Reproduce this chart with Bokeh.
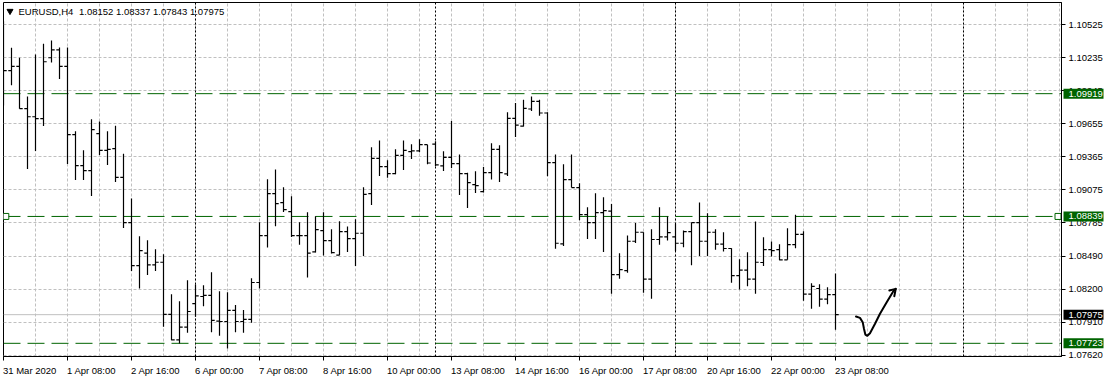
from bokeh.plotting import figure
from bokeh.models import (FixedTicker, Span, Label, ColumnDataSource,
                          Range1d, PrintfTickFormatter)
from bokeh.core.properties import value
from bokeh.embed import file_html
from bokeh.resources import INLINE

symbol = "EURUSD,H4"
ohlc_header = "1.08152 1.08337 1.07843 1.07975"

opens = [1.10300, 1.10121, 1.10159, 1.09787, 1.09716, 1.09699, 1.10235, 1.10305, 1.10159, 1.09558,
         1.09286, 1.09242, 1.09567, 1.09421, 1.09435, 1.09183, 1.08785, 1.08407, 1.08516, 1.08413,
         1.08436, 1.07977, 1.07754, 1.07865, 1.08073, 1.08135, 1.08144, 1.07918, 1.07915, 1.08012,
         1.07915, 1.07933, 1.08258, 1.08671, 1.09040, 1.08961, 1.08882, 1.08671, 1.08671, 1.08527,
         1.08715, 1.08627, 1.08498, 1.08706, 1.08644, 1.08691, 1.09040, 1.09350, 1.09277, 1.09216,
         1.09377, 1.09409, 1.09415, 1.09470, 1.09476, 1.09283, 1.09359, 1.09303, 1.09216, 1.09119,
         1.09057, 1.09224, 1.09429, 1.09213, 1.09702, 1.09634, 1.09784, 1.09851, 1.09749, 1.09312,
         1.08597, 1.09163, 1.09093, 1.08855, 1.08785, 1.08873, 1.08885, 1.08328, 1.08363, 1.08621,
         1.08700, 1.08287, 1.08636, 1.08659, 1.08659, 1.08603, 1.08706, 1.08785, 1.08621, 1.08700,
         1.08595, 1.08557, 1.08319, 1.08366, 1.08287, 1.08434, 1.08548, 1.08548, 1.08457, 1.08592,
         1.08682, 1.08155, 1.08205, 1.08111, 1.08152]

highs = [1.10557, 1.10323, 1.10235, 1.09895, 1.10264, 1.10358, 1.10387, 1.10326, 1.10326, 1.09588,
         1.09421, 1.09693, 1.09675, 1.09588, 1.09637, 1.09391, 1.08996, 1.08665, 1.08630, 1.08551,
         1.08507, 1.08155, 1.08094, 1.08278, 1.08240, 1.08234, 1.08349, 1.08182, 1.08173, 1.08059,
         1.08015, 1.08296, 1.08788, 1.09166, 1.09251, 1.09095, 1.09016, 1.08788, 1.08876, 1.08841,
         1.08876, 1.08726, 1.08797, 1.08750, 1.08814, 1.09095, 1.09447, 1.09508, 1.09333, 1.09429,
         1.09508, 1.09473, 1.09517, 1.09470, 1.09500, 1.09412, 1.09678, 1.09385, 1.09224, 1.09236,
         1.09274, 1.09482, 1.09465, 1.09755, 1.09837, 1.09866, 1.09895, 1.09866, 1.09755, 1.09385,
         1.09298, 1.09385, 1.09131, 1.08920, 1.09043, 1.09008, 1.08949, 1.08516, 1.08671, 1.08782,
         1.08700, 1.08726, 1.08920, 1.08838, 1.08776, 1.08715, 1.08785, 1.08961, 1.08867, 1.08726,
         1.08700, 1.08559, 1.08463, 1.08524, 1.08794, 1.08656, 1.08618, 1.08595, 1.08735, 1.08855,
         1.08709, 1.08252, 1.08243, 1.08217, 1.08337]

lows = [1.09816, 1.09992, 1.09787, 1.09257, 1.09415, 1.09634, 1.10194, 1.10047, 1.09300, 1.09160,
        1.09160, 1.09019, 1.09380, 1.09292, 1.09142, 1.08738, 1.08360, 1.08205, 1.08325, 1.08360,
        1.07868, 1.07751, 1.07722, 1.07815, 1.07956, 1.08050, 1.07821, 1.07789, 1.07678, 1.07821,
        1.07815, 1.07903, 1.08205, 1.08565, 1.08753, 1.08879, 1.08659, 1.08589, 1.08302, 1.08521,
        1.08495, 1.08513, 1.08498, 1.08527, 1.08404, 1.08492, 1.08940, 1.09195, 1.09180, 1.09210,
        1.09248, 1.09344, 1.09403, 1.09298, 1.09280, 1.09239, 1.09265, 1.09028, 1.08914, 1.09046,
        1.09049, 1.09163, 1.09142, 1.09195, 1.09538, 1.09631, 1.09766, 1.09725, 1.09192, 1.08554,
        1.08580, 1.09093, 1.08806, 1.08641, 1.08641, 1.08527, 1.08158, 1.08290, 1.08343, 1.08606,
        1.08167, 1.08114, 1.08589, 1.08627, 1.08533, 1.08568, 1.08410, 1.08492, 1.08492, 1.08545,
        1.08530, 1.08255, 1.08196, 1.08226, 1.08158, 1.08404, 1.08486, 1.08454, 1.08457, 1.08559,
        1.08097, 1.08026, 1.08044, 1.08067, 1.07843]

closes = [1.10121, 1.10159, 1.09787, 1.09716, 1.09699, 1.10200, 1.10305, 1.10159, 1.09558, 1.09286,
          1.09242, 1.09602, 1.09421, 1.09429, 1.09183, 1.08785, 1.08407, 1.08539, 1.08413, 1.08436,
          1.07977, 1.07754, 1.07865, 1.08003, 1.08141, 1.08144, 1.07924, 1.07915, 1.08012, 1.07915,
          1.07933, 1.08258, 1.08671, 1.09040, 1.08952, 1.08899, 1.08671, 1.08671, 1.08516, 1.08723,
          1.08627, 1.08521, 1.08706, 1.08644, 1.08691, 1.09034, 1.09350, 1.09277, 1.09216, 1.09377,
          1.09421, 1.09415, 1.09470, 1.09309, 1.09292, 1.09359, 1.09303, 1.09216, 1.09136, 1.09110,
          1.09224, 1.09429, 1.09224, 1.09702, 1.09643, 1.09790, 1.09851, 1.09749, 1.09312, 1.08603,
          1.09163, 1.09093, 1.08855, 1.08785, 1.08873, 1.08890, 1.08328, 1.08372, 1.08621, 1.08700,
          1.08287, 1.08636, 1.08659, 1.08697, 1.08603, 1.08706, 1.08785, 1.08621, 1.08700, 1.08595,
          1.08557, 1.08319, 1.08366, 1.08287, 1.08436, 1.08548, 1.08539, 1.08457, 1.08592, 1.08682,
          1.08155, 1.08223, 1.08111, 1.08152, 1.07975]

x_tick_bars = [0, 8, 16, 24, 32, 40, 48, 56, 64, 72, 80, 88, 96, 104]
x_tick_labels = ["31 Mar 2020", "1 Apr 08:00", "2 Apr 16:00", "6 Apr 00:00", "7 Apr 08:00",
                 "8 Apr 16:00", "10 Apr 00:00", "13 Apr 08:00", "14 Apr 16:00", "16 Apr 00:00",
                 "17 Apr 08:00", "20 Apr 16:00", "22 Apr 00:00", "23 Apr 08:00"]
y_ticks = [1.10525, 1.10235, 1.09945, 1.09655, 1.09365, 1.09075, 1.08785,
           1.08490, 1.08200, 1.07910, 1.07620]
level_prices = [1.09919, 1.08839, 1.07723]
bid_price = 1.07975
separator_bars = [24, 54, 84, 120]
grid_bars = list(range(0, 136, 4))

# hand-drawn sketch (bar index, price)
sketch_x = [106.56, 107.06, 107.40, 107.56, 107.73, 107.98, 108.31, 108.94, 109.56, 110.40, 111.23, 111.53]
sketch_y = [1.07959, 1.07947, 1.07909, 1.07851, 1.07800, 1.07789, 1.07812, 1.07895, 1.07983, 1.08085, 1.08181, 1.08202]
head_x = [110.73, 111.53, 111.35]
head_y = [1.08188, 1.08202, 1.08137]

FONT = "Liberation Sans"
FS_PX = 9.5
FS = f"{FS_PX}px"
GREEN = "#006400"

W, H = 1107, 378
LEFT, RIGHT, TOP, BOTTOM = 3, 46, 2, 22
frame_w = W - LEFT - RIGHT
frame_h = H - TOP - BOTTOM
px_per_bar = 8.0
x0 = 0.0
x1 = x0 + frame_w / px_per_bar
y1 = 1.10721
y0 = 1.07607
price_per_px = (y1 - y0) / frame_h

# approximate advance widths (em/1000) of Liberation Sans, used to left-align time labels
ADV = {" ": 278, ":": 278, ".": 278, "A": 667, "M": 833, "p": 556, "r": 333, "a": 556}
def text_px(s):
    return sum(ADV.get(ch, 556) for ch in s) / 1000.0 * FS_PX

label_centers = [round(b + (text_px(t) / 2 - 0.5) / px_per_bar, 4)
                 for b, t in zip(x_tick_bars, x_tick_labels)]

p = figure(width=W, height=H, output_backend="svg", toolbar_location=None,
           x_range=Range1d(x0, x1), y_range=Range1d(y0, y1),
           y_axis_location="right", x_axis_location="below",
           min_border_left=LEFT, min_border_right=RIGHT,
           min_border_top=TOP, min_border_bottom=BOTTOM)
p.background_fill_color = "white"
p.border_fill_color = "white"
p.outline_line_color = "black"
p.outline_line_width = 1

# grids
p.xgrid.ticker = FixedTicker(ticks=grid_bars)
for g in (p.xgrid[0], p.ygrid[0]):
    g.grid_line_color = "#c0c0c0"
    g.grid_line_dash = "3 2"
    g.grid_line_width = 1

# y axis (right)
ya = p.yaxis[0]
ya.ticker = FixedTicker(ticks=y_ticks)
ya.formatter = PrintfTickFormatter(format="%.5f")
ya.major_tick_in = 0
ya.major_tick_out = 4
ya.minor_tick_out = 0
ya.minor_tick_in = 0
ya.major_label_standoff = 3
ya.axis_line_color = "black"
ya.major_tick_line_color = "black"
ya.major_label_text_font = FONT
ya.major_label_text_font_size = FS
ya.major_label_text_color = "black"

# x axis (below): tick marks at the bars (minor ticks), labels left-aligned to them
xa = p.xaxis[0]
xa.ticker = FixedTicker(ticks=label_centers, minor_ticks=x_tick_bars)
xa.major_label_overrides = {c: t for c, t in zip(label_centers, x_tick_labels)}
xa.major_tick_in = 0
xa.major_tick_out = 0
xa.minor_tick_in = 0
xa.minor_tick_out = 4
xa.axis_line_color = "black"
xa.minor_tick_line_color = "black"
xa.major_label_text_font = FONT
xa.major_label_text_font_size = FS
xa.major_label_text_color = "black"
xa.major_label_standoff = 4

# separators
for b in separator_bars:
    p.add_layout(Span(location=b, dimension="height", line_color="black",
                      line_dash="2 2", line_width=1, level="underlay"))

# horizontal levels
p.add_layout(Span(location=bid_price, dimension="width", line_color="#c0c0c0",
                  line_width=1, level="underlay"))
for lv in level_prices:
    p.add_layout(Span(location=lv, dimension="width", line_color=GREEN,
                      line_dash="17 7", line_width=1, level="underlay"))

# anchor squares of selected line
sel = level_prices[1]
p.scatter(x=[x0 + 2.3 / px_per_bar, x1 - 3.5 / px_per_bar], y=[sel, sel],
          marker="square", size=6, fill_color="white", line_color=GREEN, line_width=1)

# OHLC bars
idx = list(range(len(opens)))
tick = 0.4
src = ColumnDataSource(dict(x=idx, o=opens, h=highs, l=lows, c=closes,
                            xl=[i - tick for i in idx], xr=[i + tick for i in idx]))
p.segment(x0="x", y0="l", x1="x", y1="h", source=src, line_color="black", line_width=1.2)
p.segment(x0="xl", y0="o", x1="x", y1="o", source=src, line_color="black", line_width=1.2)
p.segment(x0="x", y0="c", x1="xr", y1="c", source=src, line_color="black", line_width=1.2)

# sketch arrow
p.line(sketch_x, sketch_y, line_color="black", line_width=2, line_join="round", line_cap="round")
p.line(head_x, head_y, line_color="black", line_width=2, line_join="round", line_cap="round")

# header
p.scatter(x=[x0 + 6.5 / px_per_bar], y=[y1 - 8.6 * price_per_px], marker="inverted_triangle",
          size=6, fill_color="black", line_color="black")
p.add_layout(Label(x=x0, y=y1, x_offset=15, y_offset=-8.7, text=symbol,
                   text_font=FONT, text_font_size=FS, text_color="black",
                   text_align="left", text_baseline="middle"))
p.add_layout(Label(x=x0, y=y1, x_offset=75.5, y_offset=-8.7, text=ohlc_header,
                   text_font=FONT, text_font_size=FS, text_color="black",
                   text_align="left", text_baseline="middle"))

# price boxes on the right scale (overlay level so they are drawn over the axis area)
box_prices = level_prices + [bid_price]
box_colors = [GREEN] * len(level_prices) + ["black"]
box_src = ColumnDataSource(dict(
    xc=[x1 + 22.0 / px_per_bar] * len(box_prices),
    xt=[x1 + 7.0 / px_per_bar] * len(box_prices),
    y=box_prices, c=box_colors, t=[f"{v:.5f}" for v in box_prices]))
p.rect(x="xc", y="y", width=40, height=10, width_units="screen", height_units="screen",
       fill_color="c", line_color=None, source=box_src, level="overlay")
p.text(x="xt", y="y", text="t", text_color="white", text_font=value(FONT),
       text_font_size=value(FS), text_align="left", text_baseline="middle",
       source=box_src, level="overlay")

open("out.html", "w").write(file_html(p, INLINE))
